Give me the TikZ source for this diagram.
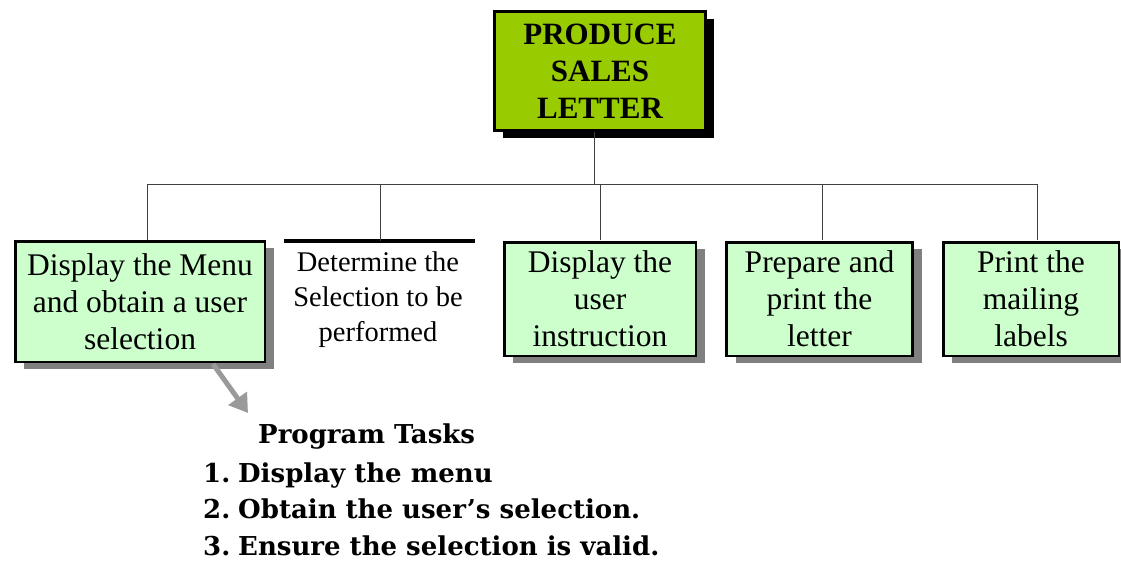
\documentclass[tikz,border=0pt]{standalone}
\usepackage{fontspec}
\setmainfont{Liberation Serif}
\newfontfamily\taskfont{DejaVu Serif}
\usetikzlibrary{shadows,arrows.meta}
\definecolor{topgreen}{HTML}{99CC00}
\definecolor{boxgreen}{HTML}{CCFFCC}
\definecolor{shadowgray}{HTML}{808080}
\definecolor{linegray}{HTML}{404040}
\definecolor{arrowgray}{HTML}{9A9A9A}
\begin{document}
\begin{tikzpicture}[x=1pt,y=-1pt,
  topbox/.style={draw=black, line width=3pt, fill=topgreen, inner sep=0pt,
    minimum width=211pt, minimum height=119pt, align=center,
    font=\fontsize{31}{37}\selectfont\bfseries,
    drop shadow={shadow xshift=8pt, shadow yshift=-8pt, fill=black, opacity=1}},
  taskbox/.style={draw=black, line width=2.5pt, fill=boxgreen, inner sep=0pt,
    align=center, font=\fontsize{31.5}{37}\selectfont,
    drop shadow={shadow xshift=9pt, shadow yshift=-7pt, fill=shadowgray, opacity=1}},
  plaintext/.style={inner sep=0pt, align=center, font=\fontsize{28.5}{35}\selectfont},
  conn/.style={draw=linegray, line width=1pt},
  thickbar/.style={draw=black, line width=4pt},
  pointer/.style={draw=arrowgray, line width=5pt, -{Triangle[width=22pt,length=18pt]}},
  tasktext/.style={inner sep=0pt, anchor=base west, font=\taskfont\bfseries\fontsize{26}{31}\selectfont}
]
\useasboundingbox (0,0) rectangle (1121,564);

% top box
\node[topbox] (top) at (600,71) {PRODUCE\\SALES\\LETTER};

% second-level boxes
\node[taskbox, minimum width=249.5pt, minimum height=120.5pt] (b1) at (140,301.5)
  {Display the Menu\\and obtain a user\\selection};
\coordinate (detL) at (284,241);
\coordinate (detR) at (475,241);
\coordinate (detTop) at (380,241);
\draw[thickbar] (detL) -- (detR);
\node[plaintext] (det) at (378,300) {Determine the\\Selection to be\\performed};
\node[taskbox, minimum width=191.5pt, minimum height=113.5pt] (b3) at (600,299)
  {Display the\\user\\instruction};
\node[taskbox, minimum width=186pt, minimum height=113.5pt] (b4) at (819.5,299)
  {Prepare and\\print the\\letter};
\node[taskbox, minimum width=175.5pt, minimum height=113.5pt] (b5) at (1031,299)
  {Print the\\mailing\\labels};

% connectors
\coordinate (bus) at (594,185);
\coordinate (topfoot) at (594,132);
\coordinate (j1) at (147,240);
\coordinate (j3) at (600,240);
\coordinate (j4) at (822,240);
\coordinate (j5) at (1037,240);
\draw[conn] (topfoot) -- (bus);
\draw[conn] (j1) -- (j1 |- bus) -- (j5 |- bus) -- (j5);
\draw[conn] (detTop) -- (detTop |- bus);
\draw[conn] (j3) -- (j3 |- bus);
\draw[conn] (j4) -- (j4 |- bus);

% pointer arrow
\coordinate (a0) at (213,364);
\coordinate (a1) at (248,413);
\draw[pointer] (a0) -- (a1);

% program tasks
\node[tasktext] (pt) at (258,443) {Program Tasks};
\node[tasktext] (t1) at (203,482) {\makebox[35pt][l]{1.}Display the menu};
\node[tasktext] (t2) at (203,518) {\makebox[35pt][l]{2.}Obtain the user’s selection.};
\node[tasktext] (t3) at (203,555) {\makebox[35pt][l]{3.}Ensure the selection is valid.};
\end{tikzpicture}
\end{document}
